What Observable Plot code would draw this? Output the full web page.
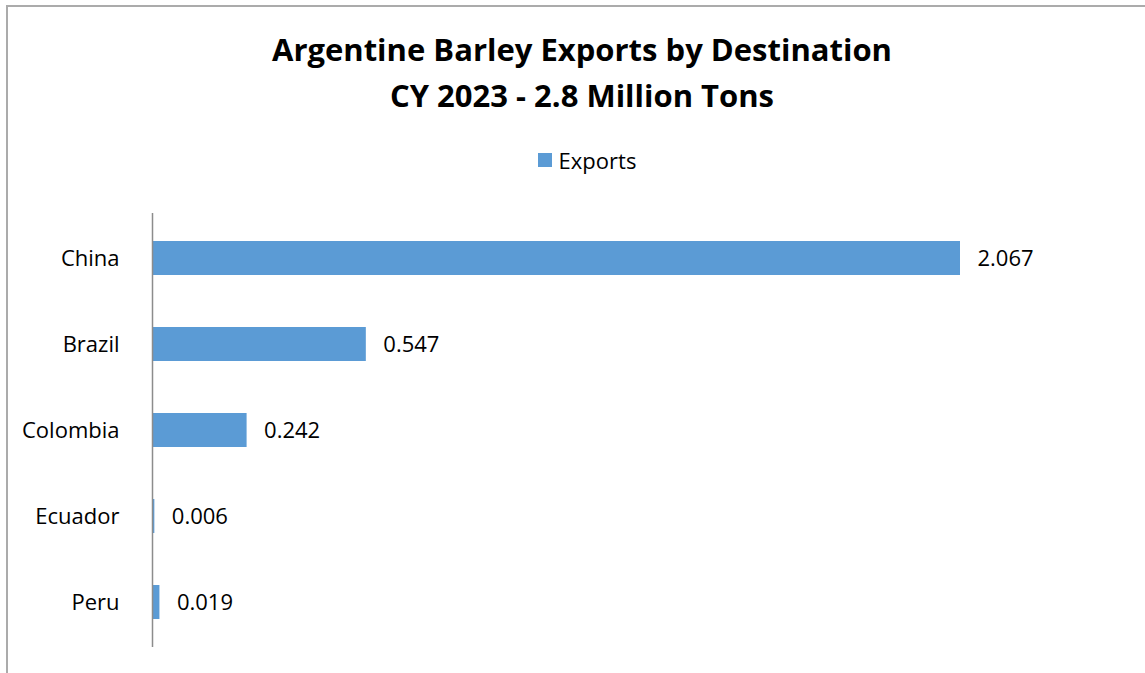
<!DOCTYPE html>
<html><head><meta charset="utf-8">
<script src="https://cdn.jsdelivr.net/npm/d3@7"></script>
<script src="https://cdn.jsdelivr.net/npm/@observablehq/plot@0.6"></script>
<style>
html,body{margin:0;padding:0;background:#fff;overflow:hidden}
#wrap{position:relative;width:1145px;height:673px;font-family:"Open Sans",sans-serif;color:#000}
#frame{position:absolute;left:6px;top:5px;width:1200px;height:700px;border-left:2px solid #ababab;border-top:2px solid #ababab;box-sizing:border-box}
#header{position:absolute;left:0;top:0;width:1164px;height:200px;text-align:center}
.title{font-weight:bold;font-size:31px;line-height:46px;white-space:nowrap}
#t1{margin-top:26px}
#legend{margin-top:30px;line-height:24px;font-size:22px;display:flex;justify-content:center;align-items:center;gap:7px;padding-left:10px}
#legend .sw{width:14px;height:14px;background:#5B9BD5;display:inline-block}
#chart{position:absolute;left:0;top:200px}
</style>
</head><body>
<div id="wrap">
  <div id="frame"></div>
  <div id="header">
    <div class="title" id="t1"></div>
    <div class="title" id="t2"></div>
    <div id="legend"><span class="sw"></span><span id="legtext"></span></div>
  </div>
  <div id="chart"></div>
</div>
<script>
const titleLines = ["Argentine Barley Exports by Destination", "CY 2023 - 2.8 Million Tons"];
const seriesName = "Exports";
const countries = ["China", "Brazil", "Colombia", "Ecuador", "Peru"];
const exportsMT = [2.067, 0.547, 0.242, 0.006, 0.019];
const valueLabels = ["2.067", "0.547", "0.242", "0.006", "0.019"];

document.getElementById("t1").textContent = titleLines[0];
document.getElementById("t2").textContent = titleLines[1];
document.getElementById("legtext").textContent = seriesName;

const data = countries.map((c, i) => ({country: c, value: exportsMT[i], label: valueLabels[i]}));

const chart = Plot.plot({
  width: 1145,
  height: 473,
  marginTop: 13,
  marginBottom: 26,
  marginLeft: 152,
  marginRight: 185,
  x: {domain: [0, d3.max(exportsMT)], axis: null},
  y: {domain: countries, paddingInner: 0.6, paddingOuter: 0.3, label: null},
  style: {fontFamily: "Open Sans", fontSize: "22px", color: "#000", background: "transparent"},
  marks: [
    Plot.barX(data, {x: "value", y: "country", fill: "#5B9BD5"}),
    Plot.ruleX([0], {stroke: "#8c8c8c", strokeWidth: 1.5}),
    Plot.text(data, {x: "value", y: "country", text: "label", textAnchor: "start", dx: 17, fill: "#000"}),
    Plot.axisY({tickSize: 0, tickPadding: 33, label: null, fill: "#000"})
  ]
});
document.getElementById("chart").appendChild(chart);
</script>
</body></html>
